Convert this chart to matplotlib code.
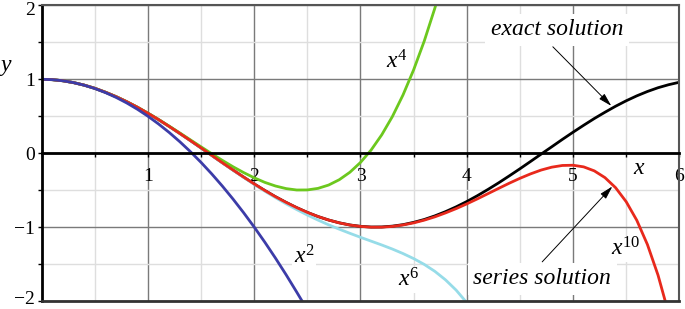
import matplotlib.pyplot as plt
from matplotlib.ticker import MultipleLocator
from matplotlib.transforms import ScaledTranslation

# values (every 0.1 in x)
x_exact = [0.0, 0.1, 0.2, 0.3, 0.4, 0.5, 0.6, 0.7, 0.8, 0.9, 1.0, 1.1, 1.2, 1.3, 1.4, 1.5,
           1.6, 1.7, 1.8, 1.9, 2.0, 2.1, 2.2, 2.3, 2.4, 2.5, 2.6, 2.7, 2.8, 2.9, 3.0, 3.1,
           3.2, 3.3, 3.4, 3.5, 3.6, 3.7, 3.8, 3.9, 4.0, 4.1, 4.2, 4.3, 4.4, 4.5, 4.6, 4.7,
           4.8, 4.9, 5.0, 5.1, 5.2, 5.3, 5.4, 5.5, 5.6, 5.7, 5.8, 5.9, 6.0]
y_exact = [1.000, 0.995, 0.980, 0.955, 0.921, 0.878, 0.825, 0.765, 0.697, 0.622, 0.540,
           0.454, 0.362, 0.267, 0.170, 0.071, -0.029, -0.129, -0.227, -0.323, -0.416,
           -0.505, -0.589, -0.666, -0.737, -0.801, -0.857, -0.904, -0.942, -0.971, -0.990,
           -0.999, -0.998, -0.987, -0.967, -0.936, -0.897, -0.848, -0.791, -0.726, -0.654,
           -0.575, -0.490, -0.401, -0.307, -0.211, -0.112, -0.012, 0.087, 0.187, 0.284,
           0.378, 0.469, 0.554, 0.635, 0.709, 0.776, 0.835, 0.886, 0.927, 0.960]

x_p2 = [0.0, 0.1, 0.2, 0.3, 0.4, 0.5, 0.6, 0.7, 0.8, 0.9, 1.0, 1.1, 1.2, 1.3, 1.4, 1.5,
        1.6, 1.7, 1.8, 1.9, 2.0, 2.1, 2.2, 2.3, 2.4, 2.45]
y_p2 = [1.000, 0.995, 0.980, 0.955, 0.920, 0.875, 0.820, 0.755, 0.680, 0.595, 0.500,
        0.395, 0.280, 0.155, 0.020, -0.125, -0.280, -0.445, -0.620, -0.805, -1.000,
        -1.205, -1.420, -1.645, -1.880, -2.000]

x_p4 = [0.0, 0.1, 0.2, 0.3, 0.4, 0.5, 0.6, 0.7, 0.8, 0.9, 1.0, 1.1, 1.2, 1.3, 1.4, 1.5,
        1.6, 1.7, 1.8, 1.9, 2.0, 2.1, 2.2, 2.3, 2.4, 2.5, 2.6, 2.7, 2.8, 2.9, 3.0, 3.1,
        3.2, 3.3, 3.4, 3.5, 3.6, 3.7, 3.8]
y_p4 = [1.000, 0.995, 0.980, 0.955, 0.921, 0.878, 0.825, 0.765, 0.697, 0.622, 0.542,
        0.456, 0.366, 0.274, 0.180, 0.086, -0.007, -0.097, -0.183, -0.262, -0.333,
        -0.395, -0.444, -0.479, -0.498, -0.497, -0.476, -0.431, -0.359, -0.258, -0.125,
        0.043, 0.249, 0.496, 0.788, 1.128, 1.518, 1.964, 2.468]

x_p6 = [0.0, 0.1, 0.2, 0.3, 0.4, 0.5, 0.6, 0.7, 0.8, 0.9, 1.0, 1.1, 1.2, 1.3, 1.4, 1.5,
        1.6, 1.7, 1.8, 1.9, 2.0, 2.1, 2.2, 2.3, 2.4, 2.5, 2.6, 2.7, 2.8, 2.9, 3.0, 3.1,
        3.2, 3.3, 3.4, 3.5, 3.6, 3.7, 3.8, 3.9, 4.0]
y_p6 = [1.000, 0.995, 0.980, 0.955, 0.921, 0.878, 0.825, 0.765, 0.697, 0.622, 0.540,
        0.454, 0.362, 0.267, 0.170, 0.070, -0.030, -0.131, -0.230, -0.327, -0.422,
        -0.514, -0.602, -0.685, -0.763, -0.837, -0.905, -0.969, -1.028, -1.084, -1.138,
        -1.190, -1.242, -1.297, -1.358, -1.426, -1.505, -1.599, -1.714, -1.853, -2.022]

x_p10 = [0.0, 0.1, 0.2, 0.3, 0.4, 0.5, 0.6, 0.7, 0.8, 0.9, 1.0, 1.1, 1.2, 1.3, 1.4, 1.5,
         1.6, 1.7, 1.8, 1.9, 2.0, 2.1, 2.2, 2.3, 2.4, 2.5, 2.6, 2.7, 2.8, 2.9, 3.0, 3.1,
         3.2, 3.3, 3.4, 3.5, 3.6, 3.7, 3.8, 3.9, 4.0, 4.1, 4.2, 4.3, 4.4, 4.5, 4.6, 4.7,
         4.8, 4.9, 5.0, 5.1, 5.2, 5.3, 5.4, 5.5, 5.6, 5.7, 5.8, 5.9]
y_p10 = [1.000, 0.995, 0.980, 0.955, 0.921, 0.878, 0.825, 0.765, 0.697, 0.622, 0.540,
         0.454, 0.362, 0.267, 0.170, 0.071, -0.029, -0.129, -0.227, -0.323, -0.416,
         -0.505, -0.589, -0.666, -0.737, -0.801, -0.857, -0.904, -0.943, -0.972, -0.991,
         -1.001, -1.001, -0.991, -0.971, -0.943, -0.906, -0.861, -0.808, -0.750, -0.686,
         -0.618, -0.547, -0.476, -0.406, -0.340, -0.280, -0.228, -0.189, -0.166, -0.163,
         -0.185, -0.239, -0.330, -0.466, -0.656, -0.908, -1.236, -1.651, -2.169]

x_ticks = [1, 2, 3, 4, 5, 6]
y_ticks = [-2, -1, 0, 1, 2]

plt.rcParams['font.family'] = ['Liberation Serif', 'DejaVu Serif']
plt.rcParams['mathtext.fontset'] = 'custom'
plt.rcParams['mathtext.it'] = 'Liberation Serif:italic'
plt.rcParams['mathtext.rm'] = 'Liberation Serif'

fig = plt.figure(figsize=(6.85, 3.09), dpi=100)
ax = fig.add_axes([41.7 / 685, 1 - 301 / 309, 637.6 / 685, 295.6 / 309])
ax.set_xlim(0, 6)
ax.set_ylim(-2, 2)

ax.set_xticks(x_ticks)
ax.set_yticks(y_ticks)
ax.xaxis.set_minor_locator(MultipleLocator(0.5))
ax.yaxis.set_minor_locator(MultipleLocator(0.5))
ax.set_axisbelow(True)
ax.grid(which='major', color='#7a7a7a', lw=1.0)
ax.grid(which='minor', color='#dedede', lw=1.0)

ax.spines['bottom'].set_position(('data', 0))
ax.spines['bottom'].set_linewidth(2)
ax.spines['left'].set_linewidth(2)
for side in ['top', 'right']:
    ax.spines[side].set_color('#555555')
    ax.spines[side].set_linewidth(1.5)
ax.axhline(-2, color='#333333', lw=2, clip_on=False, zorder=3)

ax.tick_params(which='both', direction='out', length=3, width=1, color='k')
ax.tick_params(axis='x', labelsize=14, pad=8)
ax.tick_params(axis='y', labelsize=14, pad=2)

# nudge the end y labels so they stay inside the picture
ylabs = ax.get_yticklabels()
ylabs[-1].set_transform(ylabs[-1].get_transform() + ScaledTranslation(0, -0.035, fig.dpi_scale_trans))
ylabs[0].set_transform(ylabs[0].get_transform() + ScaledTranslation(0, 0.03, fig.dpi_scale_trans))

ax.plot(x_exact, y_exact, color='black', lw=2)
ax.plot(x_p6, y_p6, color='#96dce8', lw=2)
ax.plot(x_p4, y_p4, color='#6cc81e', lw=2)
ax.plot(x_p10, y_p10, color='#e8291c', lw=2)
ax.plot(x_p2, y_p2, color='#3c3ca8', lw=2)

box = dict(facecolor='white', edgecolor='none', pad=1)
ax.text(3.34, 1.23, r'$\mathit{x}^{\mathit{4}}$', fontsize=17, ha='center', va='center', bbox=box)
ax.text(2.47, -1.41, r'$\mathit{x}^{\mathit{2}}$', fontsize=17, ha='center', va='center', bbox=box)
ax.text(3.45, -1.71, r'$\mathit{x}^{\mathit{6}}$', fontsize=17, ha='center', va='center', bbox=box)
ax.text(5.50, -1.29, r'$\mathit{x}^{\mathit{10}}$', fontsize=17, ha='center', va='center', bbox=box)
ax.text(5.62, -0.21, 'x', style='italic', fontsize=17, ha='center', va='center')
fig.text(6 / 685, 1 - 65 / 309, 'y', style='italic', fontsize=17, ha='center', va='center')

arrow = dict(arrowstyle='-|>,head_length=0.8,head_width=0.22', color='k',
             lw=0.7, shrinkA=0, shrinkB=0)
ax.annotate('', xy=(5.36, 0.64), xytext=(4.81, 1.44), arrowprops=arrow)
ax.annotate('', xy=(5.37, -0.45), xytext=(4.71, -1.47), arrowprops=arrow)
ax.text(4.85, 1.67, 'exact solution', style='italic', fontsize=17, ha='center', va='center',
        bbox=dict(facecolor='white', edgecolor='none', pad=4))
ax.text(4.71, -1.70, 'series solution', style='italic', fontsize=17, ha='center', va='center',
        bbox=dict(facecolor='white', edgecolor='none', pad=4))

fig.savefig('out.png', dpi=100)
